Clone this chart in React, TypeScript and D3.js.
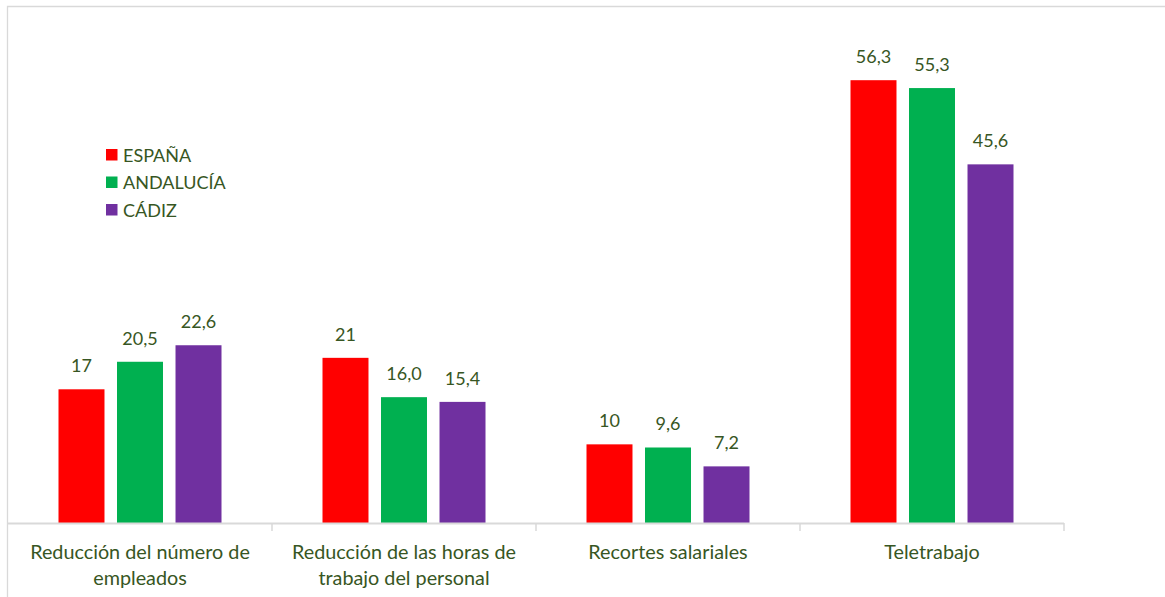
import React, { useRef, useEffect } from 'react';
import * as d3 from 'd3';

const categories = [
  ['Reducción del número de', 'empleados'],
  ['Reducción de las horas de', 'trabajo del personal'],
  ['Recortes salariales'],
  ['Teletrabajo'],
];
const seriesNames = ['ESPAÑA', 'ANDALUCÍA', 'CÁDIZ'];
const espana = [17, 21, 10, 56.3];
const andalucia = [20.5, 16.0, 9.6, 55.3];
const cadiz = [22.6, 15.4, 7.2, 45.6];
const labelText = [
  ['17', '21', '10', '56,3'],
  ['20,5', '16,0', '9,6', '55,3'],
  ['22,6', '15,4', '7,2', '45,6'],
];
const colors = ['#ff0000', '#00b050', '#7030a0'];

const W = 1165;
const H = 597;
const textColor = '#375623';
const font = 'Lato, "Open Sans", sans-serif';

const App = () => {
  const svgRef = useRef<SVGSVGElement>(null);
  useEffect(() => {
    const svg = d3.select(svgRef.current);
    svg.selectAll('*').remove();

    const series = [espana, andalucia, cadiz];
    const keys = categories.map((c, i) => String(i));
    const baseY = 523;

    const x = d3.scaleBand().domain(keys).range([8, 1064]).padding(0);
    const xs = d3.scaleBand().domain(seriesNames).range([50.5, 213.5]).paddingInner(0.214).paddingOuter(0);
    const y = d3.scaleLinear().domain([0, 60]).range([baseY, baseY - 60 * 7.865]);

    // frame
    svg.append('path')
      .attr('d', `M7.5,${H} V6.5 H${W}`)
      .attr('fill', 'none')
      .attr('stroke', '#d9d9d9')
      .attr('stroke-width', 1.3);

    // bars
    series.forEach((vals, s) => {
      svg.append('g')
        .selectAll('rect')
        .data(vals)
        .join('rect')
        .attr('x', (d, i) => x(keys[i])! + xs(seriesNames[s])!)
        .attr('width', xs.bandwidth())
        .attr('y', d => y(d))
        .attr('height', d => baseY - y(d))
        .attr('fill', colors[s]);
      svg.append('g')
        .selectAll('text')
        .data(vals)
        .join('text')
        .attr('x', (d, i) => x(keys[i])! + xs(seriesNames[s])! + xs.bandwidth() / 2)
        .attr('y', d => y(d) - 17)
        .attr('text-anchor', 'middle')
        .attr('fill', textColor)
        .style('font-family', font)
        .style('font-size', '18px')
        .text((d, i) => labelText[s][i]);
    });

    // axis
    const axis = svg.append('g');
    axis.append('line')
      .attr('x1', 7).attr('x2', 1064)
      .attr('y1', baseY + 0.5).attr('y2', baseY + 0.5)
      .attr('stroke', '#d9d9d9').attr('stroke-width', 2);
    const ticks = keys.map(k => x(k)!).concat([1064]);
    axis.selectAll('line.tick')
      .data(ticks.slice(1))
      .join('line')
      .attr('class', 'tick')
      .attr('x1', d => d).attr('x2', d => d)
      .attr('y1', baseY).attr('y2', baseY + 8)
      .attr('stroke', '#d9d9d9').attr('stroke-width', 1.5);

    // category labels
    categories.forEach((lines, i) => {
      const t = svg.append('text')
        .attr('text-anchor', 'middle')
        .attr('fill', textColor)
        .style('font-family', font)
        .style('font-size', '19.8px');
      lines.forEach((ln, j) => {
        t.append('tspan')
          .attr('x', x(keys[i])! + x.bandwidth() / 2)
          .attr('y', 559 + j * 25.5)
          .text(ln);
      });
    });

    // legend
    const legend = svg.append('g').attr('transform', 'translate(106,149)');
    legend.selectAll('rect')
      .data(seriesNames)
      .join('rect')
      .attr('x', 0)
      .attr('y', (d, i) => i * 27.5)
      .attr('width', 11.5)
      .attr('height', 11.5)
      .attr('fill', (d, i) => colors[i]);
    legend.selectAll('text')
      .data(seriesNames)
      .join('text')
      .attr('x', 17)
      .attr('y', (d, i) => i * 27.5 + 12.5)
      .attr('fill', textColor)
      .style('font-family', font)
      .style('font-size', '18px')
      .text(d => d);
  }, []);

  return (
    <svg
      ref={svgRef}
      width={W}
      height={H}
      style={{ position: 'absolute', left: 0, top: 0, background: '#fff' }}
    />
  );
};

export default App;
